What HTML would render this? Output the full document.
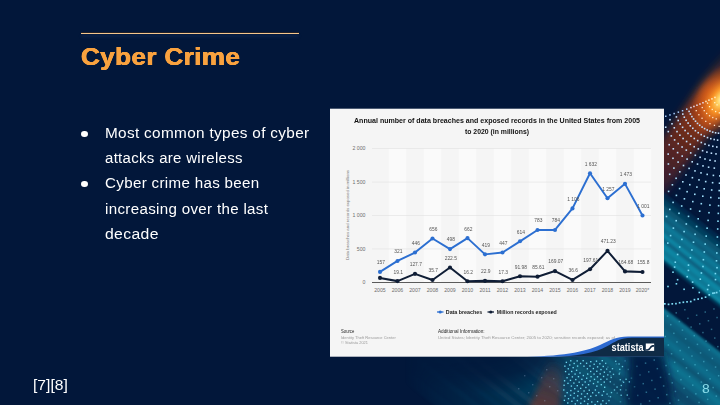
<!DOCTYPE html>
<html><head><meta charset="utf-8"><title>Cyber Crime</title>
<style>
html,body{margin:0;padding:0;background:#02173a;}
body{width:720px;height:405px;overflow:hidden;background:#02173a;position:relative;font-family:"Liberation Sans",sans-serif;}
#bg{position:absolute;left:0;top:0;}
.t{position:absolute;white-space:nowrap;transform-origin:0 0;}
#title{left:80.6px;top:42.7px;font-size:23.5px;font-weight:bold;color:#f9a23f;line-height:28px;letter-spacing:0.3px;text-shadow:0.35px 0 0 #f9a23f,-0.35px 0 0 #f9a23f,0 0.3px 0 #f9a23f;transform:scaleX(1.113);}
.b{font-size:14px;color:#fff;line-height:18px;letter-spacing:0.3px;}
.dot{position:absolute;width:7.2px;height:6.8px;border-radius:50%;background:#fff;}
#foot{left:33.2px;top:377.1px;font-size:14px;color:#fff;line-height:16px;transform:scaleX(1.117);}
#pn{left:701.7px;top:380.5px;font-size:12.8px;color:#8adcea;line-height:16px;transform:scaleX(1.08);}
svg text{font-family:"Liberation Sans",sans-serif;}
.ax{font-size:5.2px;fill:#6e6e6e;}
.yt{font-size:3.6px;fill:#7a7a7a;}
.ti{font-size:7px;font-weight:bold;fill:#111;}
.dl{font-size:4.9px;fill:#555;}
.lg{font-size:5.3px;font-weight:bold;fill:#222;}
.sh{font-size:4.6px;fill:#222;}
.sb{font-size:4.2px;fill:#9a9a9a;}
.st{font-size:10px;font-weight:bold;fill:#fff;}
</style></head><body>
<svg id="bg" width="720" height="405" viewBox="0 0 720 405">
<defs>
<radialGradient id="hot" cx="0" cy="0" r="26" gradientUnits="userSpaceOnUse" gradientTransform="translate(722 99) rotate(124) scale(1.7 1)">
<stop offset="0" stop-color="#fff6c0"/><stop offset="0.15" stop-color="#ffd060"/><stop offset="0.35" stop-color="#fb9426" stop-opacity="0.95"/><stop offset="0.65" stop-color="#e8661a" stop-opacity="0.5"/><stop offset="1" stop-color="#c04a18" stop-opacity="0"/>
</radialGradient>
<linearGradient id="beam" x1="-55" y1="0" x2="150" y2="0" gradientUnits="userSpaceOnUse">
<stop offset="0" stop-color="#803814" stop-opacity="0"/><stop offset="0.14" stop-color="#9a4016" stop-opacity="0.4"/><stop offset="0.27" stop-color="#c8581a" stop-opacity="0.95"/><stop offset="0.38" stop-color="#983a18" stop-opacity="0.92"/><stop offset="0.55" stop-color="#6e2a1a" stop-opacity="0.88"/><stop offset="0.75" stop-color="#54222a" stop-opacity="0.7"/><stop offset="1" stop-color="#3a1c30" stop-opacity="0"/>
</linearGradient>
<linearGradient id="wedge" x1="552" y1="358" x2="535" y2="405" gradientUnits="userSpaceOnUse">
<stop offset="0" stop-color="#6a3030" stop-opacity="0"/><stop offset="0.4" stop-color="#6a322e" stop-opacity="0.5"/><stop offset="1" stop-color="#74382e" stop-opacity="0.75"/>
</linearGradient>
<radialGradient id="vfade" cx="0.5" cy="0.5" r="0.5"><stop offset="0" stop-color="#000" stop-opacity="0.95"/><stop offset="0.55" stop-color="#000" stop-opacity="0.7"/><stop offset="1" stop-color="#000" stop-opacity="0"/></radialGradient>
<linearGradient id="fadeL" x1="405" y1="0" x2="545" y2="0" gradientUnits="userSpaceOnUse">
<stop offset="0" stop-color="#000"/><stop offset="1" stop-color="#fff"/>
</linearGradient>
<mask id="mstripe" maskUnits="userSpaceOnUse" x="0" y="0" width="720" height="405"><rect width="720" height="405" fill="url(#fadeL)"/><rect width="662" height="300" fill="#000"/><ellipse cx="490" cy="352" rx="95" ry="42" fill="url(#vfade)"/></mask>
<filter id="blur2" x="-10%" y="-10%" width="120%" height="120%"><feGaussianBlur stdDeviation="0.9"/></filter>
<filter id="blur4" x="-30%" y="-30%" width="160%" height="160%"><feGaussianBlur stdDeviation="4.5"/></filter>
<filter id="blur3" x="-30%" y="-30%" width="160%" height="160%"><feGaussianBlur stdDeviation="3.2"/></filter>
</defs>
<rect width="720" height="405" fill="#02173a"/>
<!-- upper beam -->
<g filter="url(#blur4)"><g transform="translate(718 97) rotate(126)"><rect x="-55" y="-14" width="205" height="34" fill="url(#beam)"/></g></g>
<!-- teal stripes -->
<g mask="url(#mstripe)"><g transform="rotate(38)" filter="url(#blur2)" opacity="0.97">
<rect x="-200" y="-257" width="1400" height="5" fill="#05385a" opacity="0.6"/>
<rect x="-200" y="-252" width="1400" height="5" fill="#074866" opacity="0.85"/>
<rect x="-200" y="-247" width="1400" height="5" fill="#095874" opacity="1"/>
<rect x="-200" y="-242" width="1400" height="4" fill="#0b6987" opacity="1"/>
<rect x="-200" y="-238" width="1400" height="4" fill="#0a607e" opacity="1"/>
<rect x="-200" y="-234" width="1400" height="5" fill="#0e7c99" opacity="1"/>
<rect x="-200" y="-229" width="1400" height="4" fill="#0c6f8d" opacity="1"/>
<rect x="-200" y="-225" width="1400" height="4" fill="#1088a4" opacity="1"/>
<rect x="-200" y="-221" width="1400" height="4" fill="#0a6584" opacity="1"/>
<rect x="-200" y="-217" width="1400" height="5" fill="#1189a5" opacity="1"/>
<rect x="-200" y="-212" width="1400" height="4" fill="#0d7b98" opacity="1"/>
<rect x="-200" y="-208" width="1400" height="4" fill="#108aa6" opacity="1"/>
<rect x="-200" y="-204" width="1400" height="3" fill="#07486a" opacity="0.7"/>
<rect x="-200" y="-166" width="1400" height="5" fill="#0c728f" opacity="1"/>
<rect x="-200" y="-161" width="1400" height="5" fill="#0a6482" opacity="1"/>
<rect x="-200" y="-156" width="1400" height="6" fill="#095b79" opacity="1"/>
<rect x="-200" y="-150" width="1400" height="6" fill="#0a6583" opacity="1"/>
<rect x="-200" y="-144" width="1400" height="6" fill="#0c708d" opacity="1"/>
<rect x="-200" y="-138" width="1400" height="3" fill="#0a6482" opacity="1"/>
<rect x="-200" y="-135" width="1400" height="4" fill="#095876" opacity="1"/>
<rect x="-200" y="-131" width="1400" height="3" fill="#0b6986" opacity="1"/>
<rect x="-200" y="-128" width="1400" height="5" fill="#0c7692" opacity="1"/>
<rect x="-200" y="-123" width="1400" height="6" fill="#0b6b88" opacity="1"/>
<rect x="-200" y="-117" width="1400" height="6" fill="#095574" opacity="1"/>
<rect x="-200" y="-111" width="1400" height="6" fill="#074a6a" opacity="1"/>
<rect x="-200" y="-105" width="1400" height="3" fill="#084e6d" opacity="1"/>
<rect x="-200" y="-102" width="1400" height="4" fill="#095978" opacity="1"/>
<rect x="-200" y="-98" width="1400" height="5" fill="#085171" opacity="1"/>
<rect x="-200" y="-93" width="1400" height="6" fill="#0a607e" opacity="1"/>
<rect x="-200" y="-87" width="1400" height="6" fill="#084f6e" opacity="1"/>
<rect x="-200" y="-81" width="1400" height="4" fill="#074968" opacity="1"/>
<rect x="-200" y="-77" width="1400" height="3" fill="#074868" opacity="1"/>
<rect x="-200" y="-74" width="1400" height="4" fill="#074766" opacity="1"/>
<rect x="-200" y="-70" width="1400" height="6" fill="#085472" opacity="1"/>
<rect x="-200" y="-64" width="1400" height="3" fill="#084d6d" opacity="1"/>
<rect x="-200" y="-61" width="1400" height="4" fill="#084e6e" opacity="1"/>
<rect x="-200" y="-57" width="1400" height="6" fill="#074464" opacity="1"/>
<rect x="-200" y="-51" width="1400" height="3" fill="#074a6a" opacity="1"/>
<rect x="-200" y="-48" width="1400" height="3" fill="#074766" opacity="1"/>
<rect x="-200" y="-45" width="1400" height="4" fill="#074666" opacity="1"/>
<rect x="-200" y="-41" width="1400" height="3" fill="#08506f" opacity="1"/>
<rect x="-200" y="-38" width="1400" height="3" fill="#074263" opacity="1"/>
<rect x="-200" y="-35" width="1400" height="3" fill="#074868" opacity="1"/>
<rect x="-200" y="-32" width="1400" height="5" fill="#063e5e" opacity="1"/>
<rect x="-200" y="-27" width="1400" height="6" fill="#064161" opacity="1"/>
<rect x="-200" y="-21" width="1400" height="4" fill="#063c5d" opacity="1"/>
<rect x="-200" y="-17" width="1400" height="4" fill="#063c5d" opacity="1"/>
<rect x="-200" y="-13" width="1400" height="5" fill="#074464" opacity="1"/>
<rect x="-200" y="-8" width="1400" height="3" fill="#053959" opacity="1"/>
<rect x="-200" y="-5" width="1400" height="3" fill="#053657" opacity="1"/>
<rect x="-200" y="-2" width="1400" height="5" fill="#074464" opacity="1"/>
<rect x="-200" y="3" width="1400" height="4" fill="#063a5b" opacity="1"/>
<rect x="-200" y="7" width="1400" height="4" fill="#053757" opacity="1"/>
<rect x="-200" y="11" width="1400" height="4" fill="#063e5f" opacity="1"/>
<rect x="-200" y="15" width="1400" height="4" fill="#053657" opacity="1"/>
<rect x="-200" y="19" width="1400" height="5" fill="#053253" opacity="1"/>
<rect x="-200" y="24" width="1400" height="5" fill="#063e5f" opacity="1"/>
<rect x="-200" y="29" width="1400" height="3" fill="#053455" opacity="1"/>
<rect x="-200" y="32" width="1400" height="6" fill="#053556" opacity="1"/>
<rect x="-200" y="38" width="1400" height="3" fill="#053354" opacity="1"/>
<rect x="-200" y="41" width="1400" height="5" fill="#063e5f" opacity="1"/>
<rect x="-200" y="46" width="1400" height="6" fill="#05395a" opacity="1"/>
</g></g>
<!-- dark blob -->
<g filter="url(#blur4)"><polygon points="630,352 664,352 674,410 626,410" fill="#021a40" opacity="0.9"/></g>
<!-- lower wedge -->
<g filter="url(#blur3)"><polygon points="550,360 562,364 560,410 528,410" fill="url(#wedge)"/></g>
<!-- hot spot -->
<rect x="630" y="20" width="90" height="180" fill="url(#hot)"/>
<!-- dots -->
<rect x="716.3" y="244.2" width="1.6" height="1.6" fill="#7cdcf6"/>
<rect x="704.4" y="243.3" width="1.6" height="1.6" fill="#7cdcf6"/>
<rect x="692.7" y="241.4" width="1.6" height="1.6" fill="#7cdcf6"/>
<rect x="681.1" y="238.6" width="1.6" height="1.6" fill="#7ddcf6"/>
<rect x="669.8" y="234.8" width="1.6" height="1.6" fill="#80dcf6"/>
<rect x="716.6" y="236.2" width="1.6" height="1.6" fill="#7fdcf6"/>
<rect x="705.4" y="235.3" width="1.6" height="1.6" fill="#7fdcf6"/>
<rect x="694.3" y="233.5" width="1.6" height="1.6" fill="#81dcf6"/>
<rect x="683.3" y="230.8" width="1.6" height="1.6" fill="#83dcf6"/>
<rect x="672.6" y="227.3" width="1.6" height="1.6" fill="#86dcf7"/>
<rect x="716.9" y="228.2" width="1.6" height="1.6" fill="#85dcf7"/>
<rect x="706.3" y="227.4" width="1.6" height="1.6" fill="#86dcf7"/>
<rect x="695.8" y="225.7" width="1.6" height="1.6" fill="#87dcf7"/>
<rect x="685.5" y="223.2" width="1.6" height="1.6" fill="#89ddf7"/>
<rect x="675.4" y="219.9" width="1.6" height="1.6" fill="#8cddf8"/>
<rect x="665.7" y="215.7" width="1.6" height="1.6" fill="#8fddf8"/>
<rect x="717.2" y="220.4" width="1.6" height="1.6" fill="#8bddf7"/>
<rect x="707.3" y="219.6" width="1.6" height="1.6" fill="#8cddf8"/>
<rect x="697.4" y="218.0" width="1.6" height="1.6" fill="#8dddf8"/>
<rect x="687.7" y="215.6" width="1.6" height="1.6" fill="#8fddf8"/>
<rect x="678.2" y="212.5" width="1.6" height="1.6" fill="#91ddf8"/>
<rect x="669.0" y="208.6" width="1.6" height="1.6" fill="#95def9"/>
<rect x="717.5" y="212.6" width="1.6" height="1.6" fill="#91ddf8"/>
<rect x="708.2" y="211.9" width="1.6" height="1.6" fill="#92ddf8"/>
<rect x="698.9" y="210.4" width="1.6" height="1.6" fill="#93ddf8"/>
<rect x="689.8" y="208.2" width="1.6" height="1.6" fill="#95def9"/>
<rect x="680.9" y="205.2" width="1.6" height="1.6" fill="#97def9"/>
<rect x="672.3" y="201.6" width="1.6" height="1.6" fill="#9adef9"/>
<rect x="717.8" y="204.9" width="1.6" height="1.6" fill="#98def9"/>
<rect x="709.1" y="204.3" width="1.6" height="1.6" fill="#98def9"/>
<rect x="700.5" y="202.9" width="1.6" height="1.6" fill="#99def9"/>
<rect x="692.0" y="200.8" width="1.6" height="1.6" fill="#9bdef9"/>
<rect x="683.6" y="198.0" width="1.6" height="1.6" fill="#9ddefa"/>
<rect x="675.6" y="194.6" width="1.6" height="1.6" fill="#a0dffa"/>
<rect x="667.8" y="190.6" width="1.6" height="1.6" fill="#a3dffa"/>
<rect x="718.1" y="197.3" width="1.6" height="1.6" fill="#9edefa"/>
<rect x="710.0" y="196.7" width="1.6" height="1.6" fill="#9edefa"/>
<rect x="702.0" y="195.4" width="1.6" height="1.6" fill="#9fdefa"/>
<rect x="694.0" y="193.5" width="1.6" height="1.6" fill="#a1dffa"/>
<rect x="686.3" y="190.9" width="1.6" height="1.6" fill="#a3dffa"/>
<rect x="678.8" y="187.8" width="1.6" height="1.6" fill="#a5dffb"/>
<rect x="671.6" y="184.0" width="1.6" height="1.6" fill="#a8dffb"/>
<rect x="718.4" y="189.8" width="1.6" height="1.6" fill="#a4dffb"/>
<rect x="710.9" y="189.2" width="1.6" height="1.6" fill="#a4dffb"/>
<rect x="703.4" y="188.0" width="1.6" height="1.6" fill="#a5dffb"/>
<rect x="696.1" y="186.3" width="1.6" height="1.6" fill="#a6dffb"/>
<rect x="689.0" y="183.9" width="1.6" height="1.6" fill="#a8dffb"/>
<rect x="682.0" y="181.0" width="1.6" height="1.6" fill="#abdffb"/>
<rect x="675.3" y="177.5" width="1.6" height="1.6" fill="#aee0fc"/>
<rect x="668.9" y="173.5" width="1.6" height="1.6" fill="#b1e0fc"/>
<rect x="718.7" y="182.4" width="1.6" height="1.6" fill="#aadffb"/>
<rect x="711.8" y="181.9" width="1.6" height="1.6" fill="#aadffb"/>
<rect x="704.9" y="180.8" width="1.6" height="1.6" fill="#abdffb"/>
<rect x="698.2" y="179.1" width="1.6" height="1.6" fill="#ace0fc"/>
<rect x="691.6" y="176.9" width="1.6" height="1.6" fill="#aee0fc"/>
<rect x="685.2" y="174.2" width="1.6" height="1.6" fill="#b0e0fc"/>
<rect x="679.0" y="171.0" width="1.6" height="1.6" fill="#b3e0fc"/>
<rect x="673.1" y="167.3" width="1.6" height="1.6" fill="#b6e0fd"/>
<rect x="667.6" y="163.2" width="1.6" height="1.6" fill="#b9e1fd"/>
<rect x="719.0" y="175.1" width="1.6" height="1.6" fill="#afe0fc"/>
<rect x="712.6" y="174.6" width="1.6" height="1.6" fill="#b0e0fc"/>
<rect x="706.4" y="173.6" width="1.6" height="1.6" fill="#b1e0fc"/>
<rect x="700.2" y="172.1" width="1.6" height="1.6" fill="#b2e0fc"/>
<rect x="694.2" y="170.1" width="1.6" height="1.6" fill="#b3e0fc"/>
<rect x="688.3" y="167.6" width="1.6" height="1.6" fill="#b5e0fd"/>
<rect x="682.7" y="164.7" width="1.6" height="1.6" fill="#b8e1fd"/>
<rect x="677.3" y="161.3" width="1.6" height="1.6" fill="#bae1fd"/>
<rect x="672.2" y="157.5" width="1.6" height="1.6" fill="#bee1fe"/>
<rect x="667.4" y="153.3" width="1.6" height="1.6" fill="#c1e1fe"/>
<rect x="713.5" y="167.3" width="1.6" height="1.6" fill="#b6e0fd"/>
<rect x="707.8" y="166.4" width="1.6" height="1.6" fill="#b6e0fd"/>
<rect x="702.2" y="165.1" width="1.6" height="1.6" fill="#b7e0fd"/>
<rect x="696.7" y="163.3" width="1.6" height="1.6" fill="#b9e1fd"/>
<rect x="691.4" y="161.0" width="1.6" height="1.6" fill="#bbe1fd"/>
<rect x="686.3" y="158.3" width="1.6" height="1.6" fill="#bde1fe"/>
<rect x="681.4" y="155.3" width="1.6" height="1.6" fill="#bfe1fe"/>
<rect x="676.8" y="151.8" width="1.6" height="1.6" fill="#c2e1fe"/>
<rect x="672.5" y="148.0" width="1.6" height="1.6" fill="#c4e2ff"/>
<rect x="668.4" y="143.9" width="1.6" height="1.6" fill="#c4e2ff"/>
<rect x="714.3" y="160.2" width="1.6" height="1.6" fill="#bbe1fd"/>
<rect x="709.2" y="159.4" width="1.6" height="1.6" fill="#bce1fe"/>
<rect x="704.2" y="158.2" width="1.6" height="1.6" fill="#bde1fe"/>
<rect x="699.3" y="156.5" width="1.6" height="1.6" fill="#bee1fe"/>
<rect x="694.5" y="154.5" width="1.6" height="1.6" fill="#c0e1fe"/>
<rect x="689.9" y="152.1" width="1.6" height="1.6" fill="#c2e1fe"/>
<rect x="685.5" y="149.3" width="1.6" height="1.6" fill="#c4e2ff"/>
<rect x="681.3" y="146.2" width="1.6" height="1.6" fill="#c4e2ff"/>
<rect x="677.4" y="142.8" width="1.6" height="1.6" fill="#c4e2ff"/>
<rect x="673.8" y="139.1" width="1.6" height="1.6" fill="#c4e2ff"/>
<rect x="670.5" y="135.1" width="1.6" height="1.6" fill="#c4e2ff"/>
<rect x="667.5" y="130.8" width="1.6" height="1.6" fill="#c4e2ff"/>
<rect x="664.9" y="126.4" width="1.6" height="1.6" fill="#c4e2ff"/>
<rect x="715.2" y="153.1" width="1.6" height="1.6" fill="#c1e1fe"/>
<rect x="710.6" y="152.4" width="1.6" height="1.6" fill="#c2e1fe"/>
<rect x="706.1" y="151.3" width="1.6" height="1.6" fill="#c2e1fe"/>
<rect x="701.8" y="149.9" width="1.6" height="1.6" fill="#c4e2ff"/>
<rect x="697.5" y="148.1" width="1.6" height="1.6" fill="#c4e2ff"/>
<rect x="693.4" y="145.9" width="1.6" height="1.6" fill="#c4e2ff"/>
<rect x="689.5" y="143.5" width="1.6" height="1.6" fill="#c4e2ff"/>
<rect x="685.8" y="140.7" width="1.6" height="1.6" fill="#c4e2ff"/>
<rect x="682.3" y="137.7" width="1.6" height="1.6" fill="#c4e2ff"/>
<rect x="679.1" y="134.4" width="1.6" height="1.6" fill="#c4e2ff"/>
<rect x="676.2" y="130.8" width="1.6" height="1.6" fill="#c4e2ff"/>
<rect x="673.5" y="127.0" width="1.6" height="1.6" fill="#c4e2ff"/>
<rect x="671.2" y="123.0" width="1.6" height="1.6" fill="#c4e2ff"/>
<rect x="669.2" y="118.9" width="1.6" height="1.6" fill="#c4e2ff"/>
<rect x="716.0" y="146.2" width="1.6" height="1.6" fill="#c4e2ff"/>
<rect x="712.0" y="145.5" width="1.6" height="1.6" fill="#c4e2ff"/>
<rect x="708.1" y="144.6" width="1.6" height="1.6" fill="#c4e2ff"/>
<rect x="704.2" y="143.3" width="1.6" height="1.6" fill="#c4e2ff"/>
<rect x="700.5" y="141.7" width="1.6" height="1.6" fill="#c4e2ff"/>
<rect x="696.9" y="139.8" width="1.6" height="1.6" fill="#c4e2ff"/>
<rect x="693.5" y="137.7" width="1.6" height="1.6" fill="#c4e2ff"/>
<rect x="690.2" y="135.3" width="1.6" height="1.6" fill="#c4e2ff"/>
<rect x="687.2" y="132.6" width="1.6" height="1.6" fill="#c4e2ff"/>
<rect x="684.3" y="129.7" width="1.6" height="1.6" fill="#c4e2ff"/>
<rect x="681.8" y="126.5" width="1.6" height="1.6" fill="#c4e2ff"/>
<rect x="679.4" y="123.2" width="1.6" height="1.6" fill="#c4e2ff"/>
<rect x="677.4" y="119.7" width="1.6" height="1.6" fill="#c4e2ff"/>
<rect x="675.6" y="116.1" width="1.6" height="1.6" fill="#c4e2ff"/>
<rect x="716.8" y="139.3" width="1.6" height="1.6" fill="#c4e2ff"/>
<rect x="713.4" y="138.7" width="1.6" height="1.6" fill="#c4e2ff"/>
<rect x="710.0" y="137.9" width="1.6" height="1.6" fill="#c4e2ff"/>
<rect x="706.7" y="136.8" width="1.6" height="1.6" fill="#c4e2ff"/>
<rect x="703.5" y="135.4" width="1.6" height="1.6" fill="#c4e2ff"/>
<rect x="700.4" y="133.8" width="1.6" height="1.6" fill="#c4e2ff"/>
<rect x="697.4" y="131.9" width="1.6" height="1.6" fill="#c4e2ff"/>
<rect x="694.6" y="129.9" width="1.6" height="1.6" fill="#c4e2ff"/>
<rect x="692.0" y="127.5" width="1.6" height="1.6" fill="#c4e2ff"/>
<rect x="689.5" y="125.0" width="1.6" height="1.6" fill="#c4e2ff"/>
<rect x="687.3" y="122.3" width="1.6" height="1.6" fill="#c4e2ff"/>
<rect x="685.3" y="119.5" width="1.6" height="1.6" fill="#c4e2ff"/>
<rect x="683.5" y="116.4" width="1.6" height="1.6" fill="#c4e2ff"/>
<rect x="682.0" y="113.3" width="1.6" height="1.6" fill="#c4e2ff"/>
<rect x="717.7" y="132.4" width="1.6" height="1.6" fill="#c4e2ff"/>
<rect x="714.8" y="132.0" width="1.6" height="1.6" fill="#c4e2ff"/>
<rect x="711.9" y="131.3" width="1.6" height="1.6" fill="#c4e2ff"/>
<rect x="709.1" y="130.3" width="1.6" height="1.6" fill="#c4e2ff"/>
<rect x="706.4" y="129.2" width="1.6" height="1.6" fill="#c4e2ff"/>
<rect x="703.8" y="127.8" width="1.6" height="1.6" fill="#c4e2ff"/>
<rect x="701.3" y="126.3" width="1.6" height="1.6" fill="#c4e2ff"/>
<rect x="698.9" y="124.5" width="1.6" height="1.6" fill="#c4e2ff"/>
<rect x="696.7" y="122.6" width="1.6" height="1.6" fill="#c4e2ff"/>
<rect x="694.7" y="120.4" width="1.6" height="1.6" fill="#c4e2ff"/>
<rect x="692.8" y="118.2" width="1.6" height="1.6" fill="#c4e2ff"/>
<rect x="691.1" y="115.8" width="1.6" height="1.6" fill="#c4e2ff"/>
<rect x="689.6" y="113.2" width="1.6" height="1.6" fill="#c4e2ff"/>
<rect x="688.3" y="110.6" width="1.6" height="1.6" fill="#c4e2ff"/>
<rect x="718.5" y="125.7" width="1.3" height="1.3" fill="#ffe6cc"/>
<rect x="713.8" y="124.7" width="1.3" height="1.3" fill="#ffe6cc"/>
<rect x="709.3" y="123.0" width="1.3" height="1.3" fill="#ffe6cc"/>
<rect x="705.1" y="120.7" width="1.3" height="1.3" fill="#ffe6cc"/>
<rect x="701.4" y="117.6" width="1.3" height="1.3" fill="#ffe6cc"/>
<rect x="698.2" y="114.1" width="1.3" height="1.3" fill="#ffe6cc"/>
<rect x="695.6" y="110.0" width="1.3" height="1.3" fill="#ffe6cc"/>
<rect x="715.6" y="118.2" width="1.3" height="1.3" fill="#ffe6cc"/>
<rect x="712.1" y="116.9" width="1.3" height="1.3" fill="#ffe6cc"/>
<rect x="708.9" y="115.1" width="1.3" height="1.3" fill="#ffe6cc"/>
<rect x="706.0" y="112.8" width="1.3" height="1.3" fill="#ffe6cc"/>
<rect x="703.6" y="110.0" width="1.3" height="1.3" fill="#ffe6cc"/>
<rect x="701.6" y="106.9" width="1.3" height="1.3" fill="#ffe6cc"/>
<rect x="718.7" y="112.2" width="1.3" height="1.3" fill="#fff2c8"/>
<rect x="715.0" y="110.9" width="1.3" height="1.3" fill="#fff2c8"/>
<rect x="711.6" y="108.8" width="1.3" height="1.3" fill="#fff2c8"/>
<rect x="708.9" y="106.0" width="1.3" height="1.3" fill="#fff2c8"/>
<rect x="706.9" y="102.5" width="1.3" height="1.3" fill="#fff2c8"/>
<rect x="716.4" y="104.2" width="1.3" height="1.3" fill="#fff2c8"/>
<rect x="714.1" y="102.0" width="1.3" height="1.3" fill="#fff2c8"/>
<rect x="716.0" y="252.2" width="1.6" height="1.6" fill="#7cdcf6"/>
<rect x="703.5" y="251.2" width="1.6" height="1.6" fill="#7cdcf6"/>
<rect x="691.1" y="249.2" width="1.6" height="1.6" fill="#7cdcf6"/>
<rect x="678.9" y="246.2" width="1.6" height="1.6" fill="#7cdcf6"/>
<rect x="667.0" y="242.3" width="1.6" height="1.6" fill="#7cdcf6"/>
<rect x="715.7" y="260.0" width="1.6" height="1.6" fill="#7cdcf6"/>
<rect x="702.6" y="258.9" width="1.6" height="1.6" fill="#7cdcf6"/>
<rect x="689.6" y="256.9" width="1.6" height="1.6" fill="#7cdcf6"/>
<rect x="676.8" y="253.7" width="1.6" height="1.6" fill="#7cdcf6"/>
<rect x="716.2" y="266.9" width="1.6" height="1.6" fill="#7cdcf6"/>
<rect x="702.2" y="265.7" width="1.6" height="1.6" fill="#7cdcf6"/>
<rect x="687.7" y="264.3" width="1.6" height="1.6" fill="#7cdcf6"/>
<rect x="674.5" y="261.4" width="1.6" height="1.6" fill="#7cdcf6"/>
<rect x="714.6" y="272.8" width="1.6" height="1.6" fill="#7cdcf6"/>
<rect x="700.6" y="272.2" width="1.6" height="1.6" fill="#7cdcf6"/>
<rect x="687.6" y="269.6" width="1.6" height="1.6" fill="#7cdcf6"/>
<rect x="673.8" y="266.3" width="1.6" height="1.6" fill="#7cdcf6"/>
<rect x="714.7" y="278.8" width="1.6" height="1.6" fill="#7cdcf6"/>
<rect x="699.5" y="278.4" width="1.6" height="1.6" fill="#7cdcf6"/>
<rect x="686.4" y="275.9" width="1.6" height="1.6" fill="#7cdcf6"/>
<rect x="672.2" y="271.4" width="1.6" height="1.6" fill="#7cdcf6"/>
<rect x="707.8" y="284.5" width="1.6" height="1.6" fill="#7cdcf6"/>
<rect x="691.8" y="281.3" width="1.6" height="1.6" fill="#7cdcf6"/>
<rect x="676.8" y="278.9" width="1.6" height="1.6" fill="#7cdcf6"/>
<rect x="706.8" y="288.7" width="1.6" height="1.6" fill="#7cdcf6"/>
<rect x="692.1" y="287.0" width="1.6" height="1.6" fill="#7cdcf6"/>
<rect x="675.6" y="283.0" width="1.6" height="1.6" fill="#7cdcf6"/>
<rect x="713.7" y="292.2" width="1.6" height="1.6" fill="#7cdcf6"/>
<rect x="698.5" y="291.7" width="1.6" height="1.6" fill="#7cdcf6"/>
<rect x="683.3" y="288.5" width="1.6" height="1.6" fill="#7cdcf6"/>
<rect x="667.2" y="285.7" width="1.6" height="1.6" fill="#7cdcf6"/>
<rect x="665.0" y="115.5" width="1.5" height="1.5" fill="#a8d0ff"/>
<rect x="669.2" y="114.2" width="1.5" height="1.5" fill="#a8d0ff"/>
<rect x="673.4" y="112.8" width="1.5" height="1.5" fill="#a8d0ff"/>
<rect x="677.6" y="111.4" width="1.5" height="1.5" fill="#a8d0ff"/>
<rect x="681.8" y="110.0" width="1.5" height="1.5" fill="#a8d0ff"/>
<rect x="686.0" y="108.4" width="1.5" height="1.5" fill="#a8d0ff"/>
<rect x="690.2" y="106.8" width="1.5" height="1.5" fill="#e8e0f0"/>
<rect x="693.2" y="105.7" width="1.5" height="1.5" fill="#e8e0f0"/>
<rect x="696.2" y="104.5" width="1.5" height="1.5" fill="#e8e0f0"/>
<rect x="699.2" y="103.3" width="1.5" height="1.5" fill="#e8e0f0"/>
<rect x="702.2" y="102.0" width="1.5" height="1.5" fill="#e8e0f0"/>
<rect x="705.2" y="100.7" width="1.5" height="1.5" fill="#fff0c8"/>
<rect x="708.2" y="99.4" width="1.5" height="1.5" fill="#fff0c8"/>
<rect x="711.2" y="98.1" width="1.5" height="1.5" fill="#fff0c8"/>
<rect x="714.2" y="96.7" width="1.5" height="1.5" fill="#fff0c8"/>
<rect x="664.0" y="303.0" width="1.7" height="1.7" fill="#7fdcf5"/>
<rect x="667.7" y="303.5" width="1.7" height="1.7" fill="#7fdcf5"/>
<rect x="671.4" y="303.0" width="1.7" height="1.7" fill="#7fdcf5"/>
<rect x="675.1" y="302.8" width="1.7" height="1.7" fill="#7fdcf5"/>
<rect x="678.8" y="301.9" width="1.7" height="1.7" fill="#7fdcf5"/>
<rect x="682.5" y="301.4" width="1.7" height="1.7" fill="#7fdcf5"/>
<rect x="686.2" y="301.0" width="1.7" height="1.7" fill="#7fdcf5"/>
<rect x="689.9" y="300.7" width="1.7" height="1.7" fill="#7fdcf5"/>
<rect x="693.6" y="298.8" width="1.7" height="1.7" fill="#7fdcf5"/>
<rect x="697.3" y="298.2" width="1.7" height="1.7" fill="#7fdcf5"/>
<rect x="701.0" y="297.4" width="1.7" height="1.7" fill="#7fdcf5"/>
<rect x="704.7" y="296.3" width="1.7" height="1.7" fill="#7fdcf5"/>
<rect x="708.4" y="294.0" width="1.7" height="1.7" fill="#7fdcf5"/>
<rect x="712.1" y="292.4" width="1.7" height="1.7" fill="#7fdcf5"/>
<rect x="715.8" y="291.7" width="1.7" height="1.7" fill="#7fdcf5"/>
<rect x="719.5" y="290.0" width="1.7" height="1.7" fill="#7fdcf5"/>
<rect x="607.9" y="395.5" width="1.5" height="1.5" fill="#62d2ea" opacity="0.3"/>
<rect x="607.1" y="366.4" width="1.5" height="1.5" fill="#62d2ea" opacity="0.3"/>
<rect x="610.2" y="375.0" width="1.5" height="1.5" fill="#62d2ea" opacity="0.3"/>
<rect x="613.4" y="383.7" width="1.5" height="1.5" fill="#62d2ea" opacity="0.3"/>
<rect x="616.5" y="392.3" width="1.5" height="1.5" fill="#62d2ea" opacity="0.3"/>
<rect x="619.7" y="401.0" width="1.5" height="1.5" fill="#62d2ea" opacity="0.3"/>
<rect x="615.7" y="363.2" width="1.5" height="1.5" fill="#62d2ea" opacity="0.3"/>
<rect x="618.9" y="371.9" width="1.5" height="1.5" fill="#62d2ea" opacity="0.3"/>
<rect x="622.0" y="380.5" width="1.5" height="1.5" fill="#62d2ea" opacity="0.3"/>
<rect x="625.2" y="389.2" width="1.5" height="1.5" fill="#62d2ea" opacity="0.3"/>
<rect x="628.3" y="397.8" width="1.5" height="1.5" fill="#62d2ea" opacity="0.3"/>
<rect x="624.4" y="360.1" width="1.5" height="1.5" fill="#62d2ea" opacity="0.3"/>
<rect x="627.5" y="368.7" width="1.5" height="1.5" fill="#62d2ea" opacity="0.3"/>
<rect x="630.7" y="377.4" width="1.5" height="1.5" fill="#62d2ea" opacity="0.3"/>
<rect x="633.8" y="386.0" width="1.5" height="1.5" fill="#62d2ea" opacity="0.3"/>
<rect x="637.0" y="394.7" width="1.5" height="1.5" fill="#62d2ea" opacity="0.3"/>
<rect x="640.1" y="403.3" width="1.5" height="1.5" fill="#62d2ea" opacity="0.42"/>
<rect x="636.2" y="365.6" width="1.5" height="1.5" fill="#62d2ea" opacity="0.3"/>
<rect x="639.3" y="374.2" width="1.5" height="1.5" fill="#62d2ea" opacity="0.3"/>
<rect x="642.5" y="382.9" width="1.5" height="1.5" fill="#62d2ea" opacity="0.42"/>
<rect x="645.6" y="391.5" width="1.5" height="1.5" fill="#62d2ea" opacity="0.42"/>
<rect x="648.8" y="400.2" width="1.5" height="1.5" fill="#62d2ea" opacity="0.42"/>
<rect x="644.8" y="362.4" width="1.5" height="1.5" fill="#62d2ea" opacity="0.42"/>
<rect x="648.0" y="371.1" width="1.5" height="1.5" fill="#62d2ea" opacity="0.42"/>
<rect x="651.1" y="379.7" width="1.5" height="1.5" fill="#62d2ea" opacity="0.42"/>
<rect x="654.3" y="388.4" width="1.5" height="1.5" fill="#62d2ea" opacity="0.42"/>
<rect x="657.4" y="397.0" width="1.5" height="1.5" fill="#62d2ea" opacity="0.42"/>
<rect x="653.5" y="359.3" width="1.5" height="1.5" fill="#62d2ea" opacity="0.42"/>
<rect x="656.6" y="367.9" width="1.5" height="1.5" fill="#62d2ea" opacity="0.42"/>
<rect x="659.8" y="376.6" width="1.5" height="1.5" fill="#62d2ea" opacity="0.42"/>
<rect x="662.9" y="385.2" width="1.5" height="1.5" fill="#62d2ea" opacity="0.42"/>
<rect x="666.0" y="393.9" width="1.5" height="1.5" fill="#62d2ea" opacity="0.42"/>
<rect x="669.2" y="402.5" width="1.5" height="1.5" fill="#62d2ea" opacity="0.42"/>
<rect x="665.3" y="364.8" width="1.5" height="1.5" fill="#62d2ea" opacity="0.42"/>
<rect x="668.4" y="373.4" width="1.5" height="1.5" fill="#62d2ea" opacity="0.42"/>
<rect x="671.5" y="382.1" width="1.5" height="1.5" fill="#62d2ea" opacity="0.42"/>
<rect x="674.7" y="390.7" width="1.5" height="1.5" fill="#62d2ea" opacity="0.42"/>
<rect x="677.8" y="399.4" width="1.5" height="1.5" fill="#62d2ea" opacity="0.42"/>
<rect x="664.5" y="335.7" width="1.5" height="1.5" fill="#62d2ea" opacity="0.42"/>
<rect x="667.6" y="344.3" width="1.5" height="1.5" fill="#62d2ea" opacity="0.42"/>
<rect x="670.8" y="353.0" width="1.5" height="1.5" fill="#62d2ea" opacity="0.42"/>
<rect x="673.9" y="361.6" width="1.5" height="1.5" fill="#62d2ea" opacity="0.42"/>
<rect x="677.0" y="370.3" width="1.5" height="1.5" fill="#62d2ea" opacity="0.42"/>
<rect x="680.2" y="378.9" width="1.5" height="1.5" fill="#62d2ea" opacity="0.42"/>
<rect x="683.3" y="387.6" width="1.5" height="1.5" fill="#62d2ea" opacity="0.42"/>
<rect x="686.5" y="396.2" width="1.5" height="1.5" fill="#62d2ea" opacity="0.42"/>
<rect x="666.8" y="315.3" width="1.5" height="1.5" fill="#62d2ea" opacity="0.42"/>
<rect x="670.0" y="323.9" width="1.5" height="1.5" fill="#62d2ea" opacity="0.42"/>
<rect x="673.1" y="332.6" width="1.5" height="1.5" fill="#62d2ea" opacity="0.42"/>
<rect x="676.2" y="341.2" width="1.5" height="1.5" fill="#62d2ea" opacity="0.42"/>
<rect x="679.4" y="349.8" width="1.5" height="1.5" fill="#62d2ea" opacity="0.42"/>
<rect x="682.5" y="358.5" width="1.5" height="1.5" fill="#62d2ea" opacity="0.42"/>
<rect x="685.7" y="367.1" width="1.5" height="1.5" fill="#62d2ea" opacity="0.42"/>
<rect x="688.8" y="375.8" width="1.5" height="1.5" fill="#62d2ea" opacity="0.42"/>
<rect x="692.0" y="384.4" width="1.5" height="1.5" fill="#62d2ea" opacity="0.42"/>
<rect x="695.1" y="393.1" width="1.5" height="1.5" fill="#62d2ea" opacity="0.42"/>
<rect x="698.3" y="401.7" width="1.5" height="1.5" fill="#62d2ea" opacity="0.42"/>
<rect x="675.5" y="312.1" width="1.5" height="1.5" fill="#62d2ea" opacity="0.42"/>
<rect x="678.6" y="320.8" width="1.5" height="1.5" fill="#62d2ea" opacity="0.42"/>
<rect x="681.7" y="329.4" width="1.5" height="1.5" fill="#62d2ea" opacity="0.42"/>
<rect x="684.9" y="338.1" width="1.5" height="1.5" fill="#62d2ea" opacity="0.42"/>
<rect x="688.0" y="346.7" width="1.5" height="1.5" fill="#62d2ea" opacity="0.42"/>
<rect x="691.2" y="355.3" width="1.5" height="1.5" fill="#62d2ea" opacity="0.42"/>
<rect x="694.3" y="364.0" width="1.5" height="1.5" fill="#62d2ea" opacity="0.42"/>
<rect x="697.5" y="372.6" width="1.5" height="1.5" fill="#62d2ea" opacity="0.42"/>
<rect x="700.6" y="381.3" width="1.5" height="1.5" fill="#62d2ea" opacity="0.42"/>
<rect x="703.8" y="389.9" width="1.5" height="1.5" fill="#62d2ea" opacity="0.42"/>
<rect x="706.9" y="398.6" width="1.5" height="1.5" fill="#62d2ea" opacity="0.42"/>
<rect x="684.1" y="309.0" width="1.5" height="1.5" fill="#62d2ea" opacity="0.42"/>
<rect x="687.2" y="317.6" width="1.5" height="1.5" fill="#62d2ea" opacity="0.42"/>
<rect x="690.4" y="326.3" width="1.5" height="1.5" fill="#62d2ea" opacity="0.42"/>
<rect x="693.5" y="334.9" width="1.5" height="1.5" fill="#62d2ea" opacity="0.42"/>
<rect x="696.7" y="343.6" width="1.5" height="1.5" fill="#62d2ea" opacity="0.42"/>
<rect x="699.8" y="352.2" width="1.5" height="1.5" fill="#62d2ea" opacity="0.42"/>
<rect x="703.0" y="360.8" width="1.5" height="1.5" fill="#62d2ea" opacity="0.42"/>
<rect x="706.1" y="369.5" width="1.5" height="1.5" fill="#62d2ea" opacity="0.42"/>
<rect x="709.3" y="378.1" width="1.5" height="1.5" fill="#62d2ea" opacity="0.42"/>
<rect x="712.4" y="386.8" width="1.5" height="1.5" fill="#62d2ea" opacity="0.42"/>
<rect x="715.6" y="395.4" width="1.5" height="1.5" fill="#62d2ea" opacity="0.42"/>
<rect x="695.9" y="314.5" width="1.5" height="1.5" fill="#62d2ea" opacity="0.42"/>
<rect x="699.0" y="323.1" width="1.5" height="1.5" fill="#62d2ea" opacity="0.42"/>
<rect x="702.2" y="331.8" width="1.5" height="1.5" fill="#62d2ea" opacity="0.42"/>
<rect x="705.3" y="340.4" width="1.5" height="1.5" fill="#62d2ea" opacity="0.42"/>
<rect x="708.5" y="349.1" width="1.5" height="1.5" fill="#62d2ea" opacity="0.42"/>
<rect x="711.6" y="357.7" width="1.5" height="1.5" fill="#62d2ea" opacity="0.42"/>
<rect x="714.8" y="366.3" width="1.5" height="1.5" fill="#62d2ea" opacity="0.42"/>
<rect x="717.9" y="375.0" width="1.5" height="1.5" fill="#62d2ea" opacity="0.42"/>
<rect x="704.5" y="311.3" width="1.5" height="1.5" fill="#62d2ea" opacity="0.42"/>
<rect x="707.7" y="320.0" width="1.5" height="1.5" fill="#62d2ea" opacity="0.42"/>
<rect x="710.8" y="328.6" width="1.5" height="1.5" fill="#62d2ea" opacity="0.42"/>
<rect x="714.0" y="337.3" width="1.5" height="1.5" fill="#62d2ea" opacity="0.42"/>
<rect x="717.1" y="345.9" width="1.5" height="1.5" fill="#62d2ea" opacity="0.42"/>
<rect x="713.2" y="308.2" width="1.5" height="1.5" fill="#62d2ea" opacity="0.42"/>
<rect x="716.3" y="316.8" width="1.5" height="1.5" fill="#62d2ea" opacity="0.42"/>
<rect x="615.0" y="360.6" width="1.35" height="1.35" fill="#74dff8" opacity="0.8"/>
<rect x="618.4" y="363.3" width="1.35" height="1.35" fill="#74dff8" opacity="0.8"/>
<rect x="621.8" y="365.9" width="1.35" height="1.35" fill="#74dff8" opacity="0.8"/>
<rect x="619.1" y="368.7" width="1.35" height="1.35" fill="#74dff8" opacity="0.8"/>
<rect x="601.6" y="360.0" width="1.35" height="1.35" fill="#74dff8" opacity="0.95"/>
<rect x="605.0" y="362.7" width="1.35" height="1.35" fill="#74dff8" opacity="0.8"/>
<rect x="611.8" y="368.0" width="1.35" height="1.35" fill="#74dff8" opacity="0.8"/>
<rect x="618.6" y="373.3" width="1.35" height="1.35" fill="#74dff8" opacity="0.8"/>
<rect x="625.4" y="378.6" width="1.35" height="1.35" fill="#74dff8" opacity="0.8"/>
<rect x="628.7" y="381.2" width="1.35" height="1.35" fill="#74dff8" opacity="0.8"/>
<rect x="595.8" y="360.5" width="1.35" height="1.35" fill="#74dff8" opacity="0.95"/>
<rect x="599.2" y="363.1" width="1.35" height="1.35" fill="#74dff8" opacity="0.95"/>
<rect x="602.6" y="365.8" width="1.35" height="1.35" fill="#74dff8" opacity="0.95"/>
<rect x="606.0" y="368.4" width="1.35" height="1.35" fill="#74dff8" opacity="0.8"/>
<rect x="609.4" y="371.1" width="1.35" height="1.35" fill="#74dff8" opacity="0.8"/>
<rect x="612.8" y="373.7" width="1.35" height="1.35" fill="#74dff8" opacity="0.8"/>
<rect x="619.6" y="379.0" width="1.35" height="1.35" fill="#74dff8" opacity="0.8"/>
<rect x="622.9" y="381.6" width="1.35" height="1.35" fill="#74dff8" opacity="0.8"/>
<rect x="590.1" y="361.0" width="1.35" height="1.35" fill="#74dff8" opacity="0.95"/>
<rect x="593.5" y="363.6" width="1.35" height="1.35" fill="#74dff8" opacity="0.95"/>
<rect x="596.9" y="366.2" width="1.35" height="1.35" fill="#74dff8" opacity="0.95"/>
<rect x="600.3" y="368.9" width="1.35" height="1.35" fill="#74dff8" opacity="0.95"/>
<rect x="603.7" y="371.5" width="1.35" height="1.35" fill="#74dff8" opacity="0.95"/>
<rect x="607.1" y="374.2" width="1.35" height="1.35" fill="#74dff8" opacity="0.8"/>
<rect x="610.5" y="376.8" width="1.35" height="1.35" fill="#74dff8" opacity="0.8"/>
<rect x="620.6" y="384.8" width="1.35" height="1.35" fill="#74dff8" opacity="0.8"/>
<rect x="582.5" y="360.0" width="1.35" height="1.35" fill="#74dff8" opacity="0.95"/>
<rect x="585.9" y="362.6" width="1.35" height="1.35" fill="#74dff8" opacity="0.95"/>
<rect x="589.3" y="365.3" width="1.35" height="1.35" fill="#74dff8" opacity="0.95"/>
<rect x="592.7" y="367.9" width="1.35" height="1.35" fill="#74dff8" opacity="0.95"/>
<rect x="596.1" y="370.6" width="1.35" height="1.35" fill="#74dff8" opacity="0.95"/>
<rect x="599.5" y="373.2" width="1.35" height="1.35" fill="#74dff8" opacity="0.95"/>
<rect x="602.9" y="375.8" width="1.35" height="1.35" fill="#74dff8" opacity="0.95"/>
<rect x="606.2" y="378.5" width="1.35" height="1.35" fill="#74dff8" opacity="0.8"/>
<rect x="609.6" y="381.1" width="1.35" height="1.35" fill="#74dff8" opacity="0.8"/>
<rect x="616.4" y="386.4" width="1.35" height="1.35" fill="#74dff8" opacity="0.8"/>
<rect x="619.8" y="389.1" width="1.35" height="1.35" fill="#74dff8" opacity="0.8"/>
<rect x="626.6" y="394.4" width="1.35" height="1.35" fill="#74dff8" opacity="0.8"/>
<rect x="576.5" y="360.2" width="1.35" height="1.35" fill="#74dff8" opacity="0.95"/>
<rect x="579.9" y="362.8" width="1.35" height="1.35" fill="#74dff8" opacity="0.95"/>
<rect x="583.3" y="365.5" width="1.35" height="1.35" fill="#74dff8" opacity="0.95"/>
<rect x="586.7" y="368.1" width="1.35" height="1.35" fill="#74dff8" opacity="0.95"/>
<rect x="590.0" y="370.8" width="1.35" height="1.35" fill="#74dff8" opacity="0.95"/>
<rect x="593.4" y="373.4" width="1.35" height="1.35" fill="#74dff8" opacity="0.95"/>
<rect x="596.8" y="376.1" width="1.35" height="1.35" fill="#74dff8" opacity="0.95"/>
<rect x="600.2" y="378.7" width="1.35" height="1.35" fill="#74dff8" opacity="0.95"/>
<rect x="603.6" y="381.4" width="1.35" height="1.35" fill="#74dff8" opacity="0.95"/>
<rect x="613.8" y="389.3" width="1.35" height="1.35" fill="#74dff8" opacity="0.8"/>
<rect x="620.5" y="394.6" width="1.35" height="1.35" fill="#74dff8" opacity="0.8"/>
<rect x="570.1" y="360.1" width="1.35" height="1.35" fill="#74dff8" opacity="0.95"/>
<rect x="573.5" y="362.8" width="1.35" height="1.35" fill="#74dff8" opacity="0.95"/>
<rect x="576.9" y="365.4" width="1.35" height="1.35" fill="#74dff8" opacity="0.95"/>
<rect x="587.0" y="373.4" width="1.35" height="1.35" fill="#74dff8" opacity="0.95"/>
<rect x="590.4" y="376.0" width="1.35" height="1.35" fill="#74dff8" opacity="0.95"/>
<rect x="593.8" y="378.7" width="1.35" height="1.35" fill="#74dff8" opacity="0.95"/>
<rect x="597.2" y="381.3" width="1.35" height="1.35" fill="#74dff8" opacity="0.95"/>
<rect x="600.6" y="384.0" width="1.35" height="1.35" fill="#74dff8" opacity="0.95"/>
<rect x="604.0" y="386.6" width="1.35" height="1.35" fill="#74dff8" opacity="0.95"/>
<rect x="610.8" y="391.9" width="1.35" height="1.35" fill="#74dff8" opacity="0.8"/>
<rect x="565.7" y="361.7" width="1.35" height="1.35" fill="#74dff8" opacity="0.95"/>
<rect x="569.1" y="364.3" width="1.35" height="1.35" fill="#74dff8" opacity="0.95"/>
<rect x="572.5" y="367.0" width="1.35" height="1.35" fill="#74dff8" opacity="0.95"/>
<rect x="575.9" y="369.6" width="1.35" height="1.35" fill="#74dff8" opacity="0.95"/>
<rect x="579.3" y="372.3" width="1.35" height="1.35" fill="#74dff8" opacity="0.95"/>
<rect x="582.7" y="374.9" width="1.35" height="1.35" fill="#74dff8" opacity="0.95"/>
<rect x="586.0" y="377.6" width="1.35" height="1.35" fill="#74dff8" opacity="0.95"/>
<rect x="589.4" y="380.2" width="1.35" height="1.35" fill="#74dff8" opacity="0.95"/>
<rect x="592.8" y="382.9" width="1.35" height="1.35" fill="#74dff8" opacity="0.95"/>
<rect x="596.2" y="385.5" width="1.35" height="1.35" fill="#74dff8" opacity="0.95"/>
<rect x="603.0" y="390.8" width="1.35" height="1.35" fill="#74dff8" opacity="0.95"/>
<rect x="606.4" y="393.4" width="1.35" height="1.35" fill="#74dff8" opacity="0.8"/>
<rect x="609.8" y="396.1" width="1.35" height="1.35" fill="#74dff8" opacity="0.8"/>
<rect x="564.2" y="365.5" width="1.35" height="1.35" fill="#74dff8" opacity="0.95"/>
<rect x="567.6" y="368.1" width="1.35" height="1.35" fill="#74dff8" opacity="0.95"/>
<rect x="571.0" y="370.8" width="1.35" height="1.35" fill="#74dff8" opacity="0.95"/>
<rect x="574.4" y="373.4" width="1.35" height="1.35" fill="#74dff8" opacity="0.95"/>
<rect x="577.8" y="376.0" width="1.35" height="1.35" fill="#74dff8" opacity="0.95"/>
<rect x="581.2" y="378.7" width="1.35" height="1.35" fill="#74dff8" opacity="0.95"/>
<rect x="584.5" y="381.3" width="1.35" height="1.35" fill="#74dff8" opacity="0.95"/>
<rect x="587.9" y="384.0" width="1.35" height="1.35" fill="#74dff8" opacity="0.95"/>
<rect x="594.7" y="389.3" width="1.35" height="1.35" fill="#74dff8" opacity="0.95"/>
<rect x="598.1" y="391.9" width="1.35" height="1.35" fill="#74dff8" opacity="0.95"/>
<rect x="601.5" y="394.6" width="1.35" height="1.35" fill="#74dff8" opacity="0.95"/>
<rect x="608.3" y="399.9" width="1.35" height="1.35" fill="#74dff8" opacity="0.8"/>
<rect x="564.9" y="370.9" width="1.35" height="1.35" fill="#74dff8" opacity="0.95"/>
<rect x="568.3" y="373.6" width="1.35" height="1.35" fill="#74dff8" opacity="0.95"/>
<rect x="571.7" y="376.2" width="1.35" height="1.35" fill="#74dff8" opacity="0.95"/>
<rect x="575.1" y="378.9" width="1.35" height="1.35" fill="#74dff8" opacity="0.95"/>
<rect x="578.5" y="381.5" width="1.35" height="1.35" fill="#74dff8" opacity="0.95"/>
<rect x="581.9" y="384.2" width="1.35" height="1.35" fill="#74dff8" opacity="0.95"/>
<rect x="585.2" y="386.8" width="1.35" height="1.35" fill="#74dff8" opacity="0.95"/>
<rect x="588.6" y="389.5" width="1.35" height="1.35" fill="#74dff8" opacity="0.95"/>
<rect x="592.0" y="392.1" width="1.35" height="1.35" fill="#74dff8" opacity="0.95"/>
<rect x="595.4" y="394.8" width="1.35" height="1.35" fill="#74dff8" opacity="0.95"/>
<rect x="602.2" y="400.1" width="1.35" height="1.35" fill="#74dff8" opacity="0.95"/>
<rect x="605.6" y="402.7" width="1.35" height="1.35" fill="#74dff8" opacity="0.8"/>
<rect x="566.4" y="377.1" width="1.35" height="1.35" fill="#74dff8" opacity="0.95"/>
<rect x="569.8" y="379.7" width="1.35" height="1.35" fill="#74dff8" opacity="0.95"/>
<rect x="573.2" y="382.4" width="1.35" height="1.35" fill="#74dff8" opacity="0.95"/>
<rect x="576.6" y="385.0" width="1.35" height="1.35" fill="#74dff8" opacity="0.95"/>
<rect x="580.0" y="387.7" width="1.35" height="1.35" fill="#74dff8" opacity="0.95"/>
<rect x="583.4" y="390.3" width="1.35" height="1.35" fill="#74dff8" opacity="0.95"/>
<rect x="586.7" y="393.0" width="1.35" height="1.35" fill="#74dff8" opacity="0.95"/>
<rect x="590.1" y="395.6" width="1.35" height="1.35" fill="#74dff8" opacity="0.95"/>
<rect x="596.9" y="400.9" width="1.35" height="1.35" fill="#74dff8" opacity="0.95"/>
<rect x="600.3" y="403.5" width="1.35" height="1.35" fill="#74dff8" opacity="0.95"/>
<rect x="563.9" y="380.1" width="1.35" height="1.35" fill="#74dff8" opacity="0.95"/>
<rect x="567.3" y="382.7" width="1.35" height="1.35" fill="#74dff8" opacity="0.95"/>
<rect x="570.7" y="385.4" width="1.35" height="1.35" fill="#74dff8" opacity="0.95"/>
<rect x="574.1" y="388.0" width="1.35" height="1.35" fill="#74dff8" opacity="0.95"/>
<rect x="577.5" y="390.7" width="1.35" height="1.35" fill="#74dff8" opacity="0.95"/>
<rect x="580.9" y="393.3" width="1.35" height="1.35" fill="#74dff8" opacity="0.95"/>
<rect x="584.3" y="396.0" width="1.35" height="1.35" fill="#74dff8" opacity="0.95"/>
<rect x="587.7" y="398.6" width="1.35" height="1.35" fill="#74dff8" opacity="0.95"/>
<rect x="591.1" y="401.3" width="1.35" height="1.35" fill="#74dff8" opacity="0.95"/>
<rect x="594.4" y="403.9" width="1.35" height="1.35" fill="#74dff8" opacity="0.95"/>
<rect x="563.4" y="384.6" width="1.35" height="1.35" fill="#74dff8" opacity="0.95"/>
<rect x="570.2" y="389.9" width="1.35" height="1.35" fill="#74dff8" opacity="0.95"/>
<rect x="573.6" y="392.6" width="1.35" height="1.35" fill="#74dff8" opacity="0.95"/>
<rect x="577.0" y="395.2" width="1.35" height="1.35" fill="#74dff8" opacity="0.95"/>
<rect x="580.4" y="397.9" width="1.35" height="1.35" fill="#74dff8" opacity="0.95"/>
<rect x="583.8" y="400.5" width="1.35" height="1.35" fill="#74dff8" opacity="0.95"/>
<rect x="587.1" y="403.2" width="1.35" height="1.35" fill="#74dff8" opacity="0.95"/>
<rect x="563.1" y="389.3" width="1.35" height="1.35" fill="#74dff8" opacity="0.95"/>
<rect x="566.5" y="392.0" width="1.35" height="1.35" fill="#74dff8" opacity="0.95"/>
<rect x="569.9" y="394.6" width="1.35" height="1.35" fill="#74dff8" opacity="0.95"/>
<rect x="573.3" y="397.3" width="1.35" height="1.35" fill="#74dff8" opacity="0.95"/>
<rect x="576.7" y="399.9" width="1.35" height="1.35" fill="#74dff8" opacity="0.95"/>
<rect x="580.1" y="402.6" width="1.35" height="1.35" fill="#74dff8" opacity="0.95"/>
<rect x="564.4" y="395.3" width="1.35" height="1.35" fill="#74dff8" opacity="0.95"/>
<rect x="567.8" y="398.0" width="1.35" height="1.35" fill="#74dff8" opacity="0.95"/>
<rect x="571.2" y="400.6" width="1.35" height="1.35" fill="#74dff8" opacity="0.95"/>
<rect x="574.6" y="403.2" width="1.35" height="1.35" fill="#74dff8" opacity="0.95"/>
<rect x="563.7" y="399.7" width="1.35" height="1.35" fill="#74dff8" opacity="0.95"/>
<rect x="567.1" y="402.3" width="1.35" height="1.35" fill="#74dff8" opacity="0.95"/>
<rect x="524" y="375" width="1.4" height="1.4" fill="#9fb4d8" opacity="0.3"/>
<rect x="532" y="384" width="1.4" height="1.4" fill="#9fb4d8" opacity="0.3"/>
<rect x="541" y="377" width="1.4" height="1.4" fill="#9fb4d8" opacity="0.3"/>
<rect x="549" y="386" width="1.4" height="1.4" fill="#9fb4d8" opacity="0.3"/>
<rect x="536" y="395" width="1.4" height="1.4" fill="#9fb4d8" opacity="0.3"/>
<rect x="546" y="369" width="1.4" height="1.4" fill="#9fb4d8" opacity="0.3"/>
<rect x="553" y="378" width="1.4" height="1.4" fill="#9fb4d8" opacity="0.3"/>
<rect x="528" y="392" width="1.4" height="1.4" fill="#9fb4d8" opacity="0.3"/>
<rect x="518" y="388" width="1.4" height="1.4" fill="#9fb4d8" opacity="0.3"/>
<rect x="557" y="390" width="1.4" height="1.4" fill="#9fb4d8" opacity="0.3"/>
<rect x="544" y="400" width="1.4" height="1.4" fill="#9fb4d8" opacity="0.3"/>
</svg>
<svg id="chart" style="position:absolute;left:0;top:0" width="720" height="405" viewBox="0 0 720 405">
<rect x="330" y="108.7" width="334" height="248" fill="#f5f5f5"/>
<rect x="388.75" y="148.5" width="17.5" height="133.5" fill="#fafafa"/>
<rect x="423.75" y="148.5" width="17.5" height="133.5" fill="#fafafa"/>
<rect x="458.75" y="148.5" width="17.5" height="133.5" fill="#fafafa"/>
<rect x="493.75" y="148.5" width="17.5" height="133.5" fill="#fafafa"/>
<rect x="528.75" y="148.5" width="17.5" height="133.5" fill="#fafafa"/>
<rect x="563.75" y="148.5" width="17.5" height="133.5" fill="#fafafa"/>
<rect x="598.75" y="148.5" width="17.5" height="133.5" fill="#fafafa"/>
<rect x="633.75" y="148.5" width="17.5" height="133.5" fill="#fafafa"/>
<rect x="372" y="248.70" width="279" height="0.5" fill="#dcdcdc"/>
<rect x="372" y="215.25" width="279" height="0.5" fill="#dcdcdc"/>
<rect x="372" y="181.80" width="279" height="0.5" fill="#dcdcdc"/>
<rect x="372" y="148.35" width="279" height="0.5" fill="#dcdcdc"/>
<rect x="372" y="282.0" width="279" height="0.9" fill="#4a4a4a"/>
<text x="365.5" y="284.10" text-anchor="end" class="ax">0</text>
<text x="365.5" y="250.65" text-anchor="end" class="ax">500</text>
<text x="365.5" y="217.20" text-anchor="end" class="ax">1 000</text>
<text x="365.5" y="183.75" text-anchor="end" class="ax">1 500</text>
<text x="365.5" y="150.30" text-anchor="end" class="ax">2 000</text>
<text x="380.00" y="291.8" text-anchor="middle" class="ax">2005</text>
<text x="397.50" y="291.8" text-anchor="middle" class="ax">2006</text>
<text x="415.00" y="291.8" text-anchor="middle" class="ax">2007</text>
<text x="432.50" y="291.8" text-anchor="middle" class="ax">2008</text>
<text x="450.00" y="291.8" text-anchor="middle" class="ax">2009</text>
<text x="467.50" y="291.8" text-anchor="middle" class="ax">2010</text>
<text x="485.00" y="291.8" text-anchor="middle" class="ax">2011</text>
<text x="502.50" y="291.8" text-anchor="middle" class="ax">2012</text>
<text x="520.00" y="291.8" text-anchor="middle" class="ax">2013</text>
<text x="537.50" y="291.8" text-anchor="middle" class="ax">2014</text>
<text x="555.00" y="291.8" text-anchor="middle" class="ax">2015</text>
<text x="572.50" y="291.8" text-anchor="middle" class="ax">2016</text>
<text x="590.00" y="291.8" text-anchor="middle" class="ax">2017</text>
<text x="607.50" y="291.8" text-anchor="middle" class="ax">2018</text>
<text x="625.00" y="291.8" text-anchor="middle" class="ax">2019</text>
<text x="642.50" y="291.8" text-anchor="middle" class="ax">2020*</text>
<text transform="translate(348.6 215) rotate(-90)" text-anchor="middle" class="yt" textLength="90" lengthAdjust="spacingAndGlyphs">Data breaches and records exposed in millions</text>
<text x="497" y="123.3" text-anchor="middle" class="ti" textLength="286" lengthAdjust="spacingAndGlyphs">Annual number of data breaches and exposed records in the United States from 2005</text>
<text x="497" y="134.4" text-anchor="middle" class="ti" textLength="64" lengthAdjust="spacingAndGlyphs">to 2020 (in millions)</text>
<polyline points="380.00,271.90 397.50,260.93 415.00,252.56 432.50,238.51 450.00,249.08 467.50,238.11 485.00,254.37 502.50,252.50 520.00,241.32 537.50,230.02 555.00,229.95 572.50,208.41 590.00,173.22 607.50,198.31 625.00,183.86 642.50,215.43" fill="none" stroke="#2c6fd1" stroke-width="1.95" stroke-linejoin="round" stroke-linecap="round"/>
<circle cx="380.00" cy="271.90" r="2.05" fill="#2c6fd1"/>
<circle cx="397.50" cy="260.93" r="2.05" fill="#2c6fd1"/>
<circle cx="415.00" cy="252.56" r="2.05" fill="#2c6fd1"/>
<circle cx="432.50" cy="238.51" r="2.05" fill="#2c6fd1"/>
<circle cx="450.00" cy="249.08" r="2.05" fill="#2c6fd1"/>
<circle cx="467.50" cy="238.11" r="2.05" fill="#2c6fd1"/>
<circle cx="485.00" cy="254.37" r="2.05" fill="#2c6fd1"/>
<circle cx="502.50" cy="252.50" r="2.05" fill="#2c6fd1"/>
<circle cx="520.00" cy="241.32" r="2.05" fill="#2c6fd1"/>
<circle cx="537.50" cy="230.02" r="2.05" fill="#2c6fd1"/>
<circle cx="555.00" cy="229.95" r="2.05" fill="#2c6fd1"/>
<circle cx="572.50" cy="208.41" r="2.05" fill="#2c6fd1"/>
<circle cx="590.00" cy="173.22" r="2.05" fill="#2c6fd1"/>
<circle cx="607.50" cy="198.31" r="2.05" fill="#2c6fd1"/>
<circle cx="625.00" cy="183.86" r="2.05" fill="#2c6fd1"/>
<circle cx="642.50" cy="215.43" r="2.05" fill="#2c6fd1"/>
<polyline points="380.00,277.92 397.50,281.12 415.00,273.86 432.50,280.01 450.00,267.51 467.50,281.32 485.00,280.87 502.50,281.24 520.00,276.25 537.50,276.67 555.00,271.09 572.50,279.95 590.00,269.18 607.50,250.87 625.00,271.38 642.50,271.98" fill="none" stroke="#0f1d35" stroke-width="2.05" stroke-linejoin="round" stroke-linecap="round"/>
<circle cx="380.00" cy="277.92" r="2.05" fill="#0f1d35"/>
<circle cx="397.50" cy="281.12" r="2.05" fill="#0f1d35"/>
<circle cx="415.00" cy="273.86" r="2.05" fill="#0f1d35"/>
<circle cx="432.50" cy="280.01" r="2.05" fill="#0f1d35"/>
<circle cx="450.00" cy="267.51" r="2.05" fill="#0f1d35"/>
<circle cx="467.50" cy="281.32" r="2.05" fill="#0f1d35"/>
<circle cx="485.00" cy="280.87" r="2.05" fill="#0f1d35"/>
<circle cx="502.50" cy="281.24" r="2.05" fill="#0f1d35"/>
<circle cx="520.00" cy="276.25" r="2.05" fill="#0f1d35"/>
<circle cx="537.50" cy="276.67" r="2.05" fill="#0f1d35"/>
<circle cx="555.00" cy="271.09" r="2.05" fill="#0f1d35"/>
<circle cx="572.50" cy="279.95" r="2.05" fill="#0f1d35"/>
<circle cx="590.00" cy="269.18" r="2.05" fill="#0f1d35"/>
<circle cx="607.50" cy="250.87" r="2.05" fill="#0f1d35"/>
<circle cx="625.00" cy="271.38" r="2.05" fill="#0f1d35"/>
<circle cx="642.50" cy="271.98" r="2.05" fill="#0f1d35"/>
<text x="380.80" y="264.30" text-anchor="middle" class="dl">157</text>
<text x="398.30" y="253.33" text-anchor="middle" class="dl">321</text>
<text x="415.80" y="244.96" text-anchor="middle" class="dl">446</text>
<text x="433.30" y="230.91" text-anchor="middle" class="dl">656</text>
<text x="450.80" y="241.48" text-anchor="middle" class="dl">498</text>
<text x="468.30" y="230.51" text-anchor="middle" class="dl">662</text>
<text x="485.80" y="246.77" text-anchor="middle" class="dl">419</text>
<text x="503.30" y="244.90" text-anchor="middle" class="dl">447</text>
<text x="520.80" y="233.72" text-anchor="middle" class="dl">614</text>
<text x="538.30" y="222.42" text-anchor="middle" class="dl">783</text>
<text x="555.80" y="222.35" text-anchor="middle" class="dl">784</text>
<text x="573.30" y="200.81" text-anchor="middle" class="dl">1 106</text>
<text x="590.80" y="165.62" text-anchor="middle" class="dl">1 632</text>
<text x="608.30" y="190.71" text-anchor="middle" class="dl">1 257</text>
<text x="625.80" y="176.26" text-anchor="middle" class="dl">1 473</text>
<text x="643.30" y="207.83" text-anchor="middle" class="dl">1 001</text>
<text x="398.30" y="273.52" text-anchor="middle" class="dl">19.1</text>
<text x="415.80" y="266.26" text-anchor="middle" class="dl">127.7</text>
<text x="433.30" y="272.41" text-anchor="middle" class="dl">35.7</text>
<text x="450.80" y="259.91" text-anchor="middle" class="dl">222.5</text>
<text x="468.30" y="273.72" text-anchor="middle" class="dl">16.2</text>
<text x="485.80" y="273.27" text-anchor="middle" class="dl">22.9</text>
<text x="503.30" y="273.64" text-anchor="middle" class="dl">17.3</text>
<text x="520.80" y="268.65" text-anchor="middle" class="dl">91.98</text>
<text x="538.30" y="269.07" text-anchor="middle" class="dl">85.61</text>
<text x="555.80" y="263.49" text-anchor="middle" class="dl">169.07</text>
<text x="573.30" y="272.35" text-anchor="middle" class="dl">36.6</text>
<text x="590.80" y="261.58" text-anchor="middle" class="dl">197.61</text>
<text x="608.30" y="243.27" text-anchor="middle" class="dl">471.23</text>
<text x="625.80" y="263.78" text-anchor="middle" class="dl">164.68</text>
<text x="643.30" y="264.38" text-anchor="middle" class="dl">155.8</text>
<line x1="437" y1="312" x2="443.5" y2="312" stroke="#2c6fd1" stroke-width="1.3"/><circle cx="440.2" cy="312" r="1.6" fill="#2c6fd1"/>
<text x="445.8" y="313.8" class="lg" textLength="36.3" lengthAdjust="spacingAndGlyphs">Data breaches</text>
<line x1="487.5" y1="312" x2="494" y2="312" stroke="#0f1d35" stroke-width="1.3"/><circle cx="490.8" cy="312" r="1.6" fill="#0f1d35"/>
<text x="496.8" y="313.8" class="lg" textLength="60" lengthAdjust="spacingAndGlyphs">Million records exposed</text>
<text x="341" y="333.1" class="sh" textLength="13.3" lengthAdjust="spacingAndGlyphs">Source</text>
<text x="341" y="339.2" class="sb" textLength="54.8" lengthAdjust="spacingAndGlyphs">Identity Theft Resource Center</text>
<text x="341" y="344.1" class="sb" textLength="27" lengthAdjust="spacingAndGlyphs">© Statista 2021</text>
<text x="438" y="333.1" class="sh" textLength="46.6" lengthAdjust="spacingAndGlyphs">Additional Information:</text>
<text x="438" y="339.2" class="sb" textLength="177" lengthAdjust="spacingAndGlyphs">United States; Identity Theft Resource Center; 2005 to 2020; sensitive records exposed; as of</text>
<path d="M520 356.7 C560 356.7 585 352 600 345 C610 340 616 336.4 628 336.4 L664 336.4 L664 356.7 Z" fill="#2d6ad0"/>
<path d="M550 356.7 C578 356.7 596 352.5 607 346.3 C615 341.8 620 337.7 632 337.7 L664 337.7 L664 356.7 Z" fill="#0f2b46"/>
<text x="611.6" y="350.8" class="st" textLength="32" lengthAdjust="spacingAndGlyphs">statista</text>
<g transform="translate(645.8 343.5) scale(0.93 0.92)"><rect width="9" height="8" fill="#fff"/><path d="M0 6.2 C2.6 6.2 3.4 5.2 4.4 3.7 C5.4 2.2 6.3 1.6 9 1.6 L9 3.4 C6.8 3.4 6.2 3.9 5.3 5.3 C4.3 6.9 3.2 8 0 8 Z" fill="#0f2a47"/></g>
</svg>
<div style="position:absolute;left:81px;top:32.6px;width:217.8px;height:1.6px;background:#f5c78c;box-shadow:0 2.5px 3px rgba(70,100,170,0.35),0 -0.6px 0 rgba(90,50,10,0.6);"></div>
<div class="t" id="title">Cyber Crime</div>
<div class="dot" style="left:81px;top:130.6px"></div>
<div class="dot" style="left:81px;top:180.6px"></div>
<div class="t b" id="l1" style="left:105.2px;top:124.2px;transform:scaleX(1.095)">Most common types of cyber</div>
<div class="t b" id="l2" style="left:105.2px;top:149.2px;transform:scaleX(1.069)">attacks are wireless</div>
<div class="t b" id="l3" style="left:105.2px;top:174.2px;transform:scaleX(1.081)">Cyber crime has been</div>
<div class="t b" id="l4" style="left:105.2px;top:199.7px;transform:scaleX(1.08)">increasing over the last</div>
<div class="t b" id="l5" style="left:105.2px;top:224.5px;transform:scaleX(1.126)">decade</div>
<div class="t" id="foot">[7][8]</div>
<div class="t" id="pn">8</div>
</body></html>
